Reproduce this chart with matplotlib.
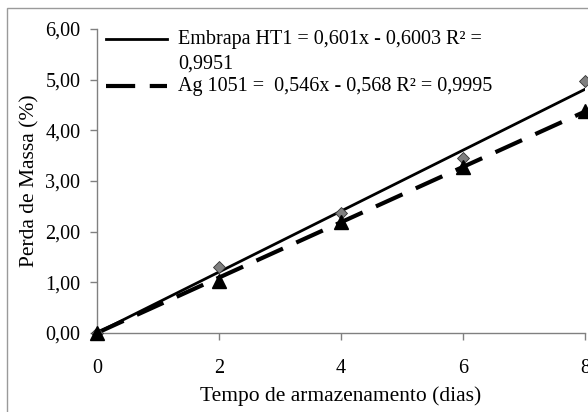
"""Perda de massa vs tempo de armazenamento (two cultivars)."""

import numpy as np
import matplotlib
matplotlib.use("Agg")
import matplotlib.pyplot as plt
from matplotlib.lines import Line2D
from matplotlib.patches import Rectangle

plt.rcParams["font.family"] = ["Liberation Serif", "DejaVu Serif"]

# ── Data ─────────────────────────────────────────────────────────────────────
days = [0, 2, 4, 6, 8]
embrapa_ht1 = [0.0, 1.30, 2.37, 3.45, 4.98]
ag_1051 = [0.0, 1.02, 2.19, 3.27, 4.38]

# slopes of the drawn trend lines (through origin)
embrapa_slope = 0.601
ag_slope = 0.546

embrapa_label = "Embrapa HT1 = 0,601x - 0,6003 R\u00b2 ="
embrapa_label2 = "0,9951"
ag_label = "Ag 1051 =  0,546x - 0,568 R\u00b2 = 0,9995"

yticks = [0, 1, 2, 3, 4, 5, 6]
ytick_labels = ["0,00", "1,00", "2,00", "3,00", "4,00", "5,00", "6,00"]
xticks = [0, 2, 4, 6, 8]

FS = 14.5
FS_LABEL = 15.5
DASH = (7, 3.5)

# ── Plot ─────────────────────────────────────────────────────────────────────
fig = plt.figure(figsize=(5.88, 4.12), dpi=100)
ax = fig.add_axes([0.165, 0.192, 0.83, 0.738])

fit_x = np.array([days[0], days[-1]], dtype=float)
ax.plot(fit_x, embrapa_slope * fit_x, color="black", lw=2.0, zorder=2)
ax.plot(fit_x, ag_slope * fit_x, color="black", lw=3.0, dashes=DASH, zorder=2)

ax.plot(days, embrapa_ht1, ls="none", marker="D", ms=6.5, mfc="#7f7f7f",
        mec="#333333", mew=0.6, zorder=3, clip_on=False)
ax.plot(days, ag_1051, ls="none", marker="^", ms=9.5, mfc="black",
        mec="black", zorder=3, clip_on=False)

ax.set_xlim(0, 8)
ax.set_ylim(0, 6)
ax.set_xticks(xticks)
ax.set_yticks(yticks)
ax.set_yticklabels(ytick_labels)
ax.tick_params(axis="both", colors="#808080", labelcolor="black",
               labelsize=FS, length=5, width=1, direction="out")
ax.tick_params(axis="x", pad=14)
ax.tick_params(axis="y", pad=7)
for side in ("top", "right"):
    ax.spines[side].set_visible(False)
for side in ("left", "bottom"):
    ax.spines[side].set_color("#808080")
    ax.spines[side].set_linewidth(1)

ax.set_xlabel("Tempo de armazenamento (dias)", fontsize=FS_LABEL, labelpad=6)
ax.set_ylabel("Perda de Massa (%)", fontsize=FS_LABEL, labelpad=4)

# legend drawn by hand so the handle sits on the first line of the wrapped label
hx0, hx1, tx = 0.018, 0.143, 0.166
ax.add_line(Line2D([hx0, hx1], [0.965, 0.965], transform=ax.transAxes,
                   color="black", lw=2.0))
ax.add_line(Line2D([hx0, hx1], [0.812, 0.812], transform=ax.transAxes,
                   color="black", lw=3.0, dashes=DASH))
ax.text(tx, 0.965, embrapa_label, transform=ax.transAxes, fontsize=FS,
        va="center", ha="left")
ax.text(tx, 0.885, embrapa_label2, transform=ax.transAxes, fontsize=FS,
        va="center", ha="left")
ax.text(tx, 0.812, ag_label, transform=ax.transAxes, fontsize=FS,
        va="center", ha="left")

# outer chart frame (right/bottom edges fall outside the crop)
fig.patches.append(Rectangle((7 / 588, -0.05), 1.2, 1 - 8 / 412 + 0.05,
                             transform=fig.transFigure, fill=False,
                             edgecolor="#9a9a9a", lw=1))

fig.savefig("out.png", dpi=100)
